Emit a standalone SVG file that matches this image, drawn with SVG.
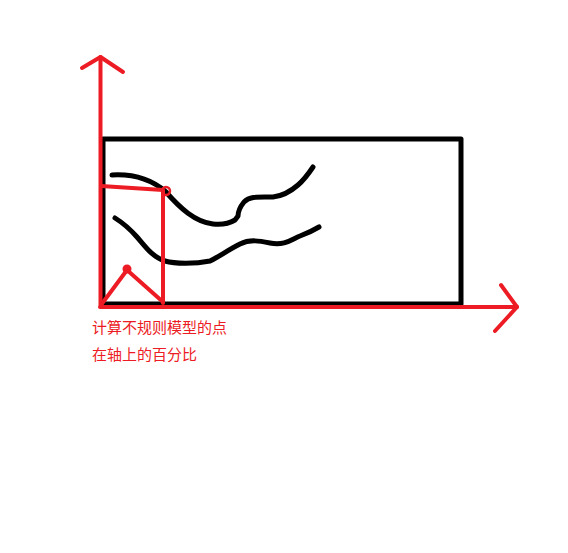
<svg xmlns="http://www.w3.org/2000/svg" width="568" height="553" viewBox="0 0 568 553">
<style>
.blk{fill:none;stroke:#000;stroke-width:5;stroke-linecap:round;stroke-linejoin:round}
.red{fill:none;stroke:#ED1C24;stroke-width:4;stroke-linecap:round;stroke-linejoin:round}
.lbl{font-family:"Noto Sans CJK SC","Noto Sans",sans-serif;font-size:15px;fill:#ED1C24}
</style>
<rect width="568" height="553" fill="#fff"/>
<g id="box">
<rect class="blk" x="103" y="139" width="358" height="165" stroke-linecap="butt" stroke-linejoin="miter"/>
</g>
<g id="curves">
<path class="blk" d="M112,175 C130,174 150,178 166,192 C180,208 195,222 213,224 C222,225 230,223 235,220 L238,216 C238,212 240,207 244,202 C250,196 258,197 273,197 C282,196 290,192 298,185 C305,179 309,173 313,167" stroke-width="4.5"/>
<path class="blk" d="M115,218 C123,223 130,229 137,237 C145,246 152,257 165,261 C175,264 195,264 210,261 C220,256 228,250 240,244 C250,239 260,241 270,243 C285,246 292,239 300,236 C308,233 314,230 319,227" stroke-width="4.5"/>
</g>
<g id="connectors">
<path class="red" d="M100.5,305 L100.5,57"/>
<path class="red" d="M82,68 L100.5,57 L123,72"/>
<path class="red" d="M100,307 L517,307"/>
<path class="red" d="M501,285 L517,307 L495,331"/>
<path class="red" d="M101,186 L163,190 L163,303"/>
<circle cx="166" cy="191" r="4" fill="none" stroke="#ED1C24" stroke-width="2.5"/>
<path class="red" d="M101,305 L127,270 L163,302"/>
<circle cx="127" cy="269" r="4.5" fill="#ED1C24"/>
</g>
<g id="label">
<text class="lbl" x="92" y="333">计算不规则模型的点</text>
<text class="lbl" x="92" y="360">在轴上的百分比</text>
</g>
</svg>
